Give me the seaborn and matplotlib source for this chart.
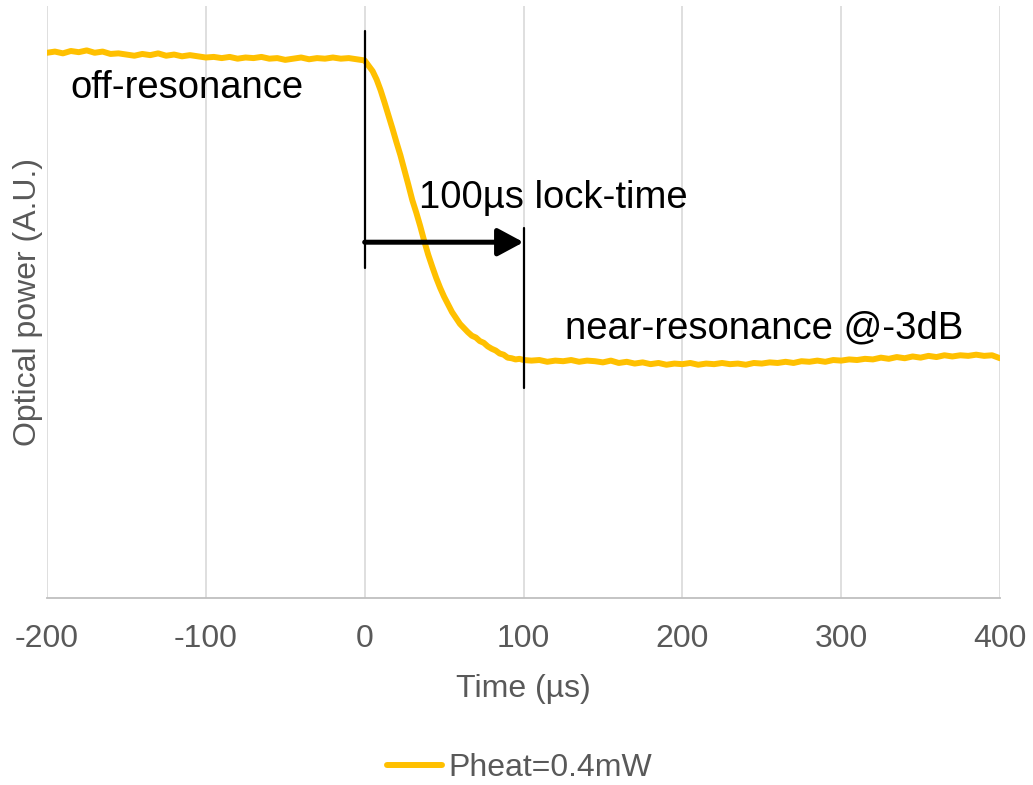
import numpy as np
import pandas as pd
import matplotlib
matplotlib.use("Agg")
import matplotlib.pyplot as plt
import seaborn as sns

# Measured optical power trace (arbitrary units) versus time in microseconds
time_off = list(range(-200, 1, 5))
power_off = [0.921, 0.923, 0.920, 0.924, 0.922, 0.925, 0.921, 0.923, 0.919, 0.920,
             0.918, 0.916, 0.919, 0.917, 0.920, 0.916, 0.918, 0.915, 0.917, 0.915,
             0.913, 0.914, 0.912, 0.914, 0.911, 0.913, 0.912, 0.914, 0.911, 0.912,
             0.909, 0.911, 0.913, 0.910, 0.912, 0.911, 0.913, 0.911, 0.912, 0.910,
             0.908]

time_lock = [2.5, 5, 7.5, 10, 12.5, 15, 17.5, 20, 22.5, 25, 27.5, 30, 32.5, 35, 37.5,
             40, 42.5, 45, 47.5, 50, 52.5, 55, 57.5, 60, 62.5, 65, 67.5, 70, 72.5, 75,
             77.5, 80, 82.5, 85, 87.5, 90, 92.5, 95, 97.5, 100]
power_lock = [0.899, 0.890, 0.876, 0.858, 0.837, 0.815, 0.793, 0.770, 0.748, 0.723,
              0.698, 0.672, 0.651, 0.628, 0.603, 0.580, 0.560, 0.541, 0.524, 0.509,
              0.496, 0.483, 0.473, 0.463, 0.456, 0.449, 0.443, 0.440, 0.434, 0.431,
              0.425, 0.421, 0.418, 0.413, 0.411, 0.406, 0.405, 0.403, 0.404, 0.402]

time_near = list(range(105, 401, 5))
power_near = [0.401, 0.402, 0.399, 0.401, 0.400, 0.402, 0.399, 0.401, 0.400, 0.398,
              0.401, 0.397, 0.399, 0.396, 0.398, 0.395, 0.397, 0.394, 0.396, 0.395,
              0.397, 0.394, 0.396, 0.395, 0.397, 0.395, 0.396, 0.394, 0.397, 0.396,
              0.398, 0.397, 0.399, 0.397, 0.400, 0.399, 0.401, 0.399, 0.402, 0.401,
              0.403, 0.402, 0.404, 0.403, 0.406, 0.404, 0.407, 0.405, 0.408, 0.406,
              0.409, 0.407, 0.410, 0.408, 0.410, 0.409, 0.411, 0.409, 0.410, 0.405]

x_ticks = [-200, -100, 0, 100, 200, 300, 400]
series_label = "Pheat=0.4mW"
lock_time = 100

df = pd.DataFrame({
    "Time (µs)": time_off + time_lock + time_near,
    "Power": power_off + power_lock + power_near,
})

sns.set_theme(style="whitegrid")
plt.rcParams["font.family"] = ["Liberation Sans", "DejaVu Sans"]

gold = "#FFC000"
gray_text = "#595959"

fig = plt.figure(figsize=(10.33, 7.85), dpi=100)
ax = fig.add_axes([47 / 1033, 187 / 785, 953 / 1033, 592 / 785])

sns.lineplot(data=df, x="Time (µs)", y="Power", ax=ax, color=gold,
             linewidth=4.3, label=series_label, legend=False)

ax.set_xlim(-200, 400)
ax.set_ylim(0, 1)
ax.set_xticks(x_ticks)
ax.set_xticklabels([str(v) for v in x_ticks])
ax.set_yticks([])
ax.grid(axis="x", color="#D9D9D9", linewidth=1.2)
ax.grid(axis="y", visible=False)
for side in ["left", "right", "top"]:
    ax.spines[side].set_visible(False)
ax.spines["bottom"].set_color("#BFBFBF")
ax.spines["bottom"].set_linewidth(1.3)
ax.tick_params(axis="x", length=0, pad=19, labelsize=23, labelcolor=gray_text)
ax.set_xlabel("Time (µs)", fontsize=23, color=gray_text, labelpad=14)
ax.set_ylabel("Optical power (A.U.)", fontsize=23, color=gray_text, labelpad=3)

# Lock-time markers
ax.plot([0, 0], [0.557, 0.958], color="black", linewidth=1.6, zorder=4)
ax.plot([lock_time, lock_time], [0.355, 0.625], color="black", linewidth=1.6, zorder=4)
ax.annotate("", xy=(lock_time, 0.601), xytext=(0, 0.601),
            arrowprops=dict(arrowstyle="-|>,head_length=1.3,head_width=0.7",
                            color="black", linewidth=3.6, shrinkA=0, shrinkB=0),
            zorder=5)

ax.text(-185, 0.861, "off-resonance", fontsize=27.5, color="black", va="center", ha="left")
ax.text(34, 0.676, "100µs lock-time", fontsize=27.5, color="black", va="center", ha="left")
ax.text(126, 0.456, "near-resonance @-3dB", fontsize=27.5, color="black", va="center", ha="left")

handles, labels = ax.get_legend_handles_labels()
fig.legend(handles, labels, loc="center", bbox_to_anchor=(0.503, 0.022),
           frameon=False, fontsize=23, labelcolor=gray_text,
           handlelength=1.7, handletextpad=0.2)

fig.savefig("out.png", dpi=100)
